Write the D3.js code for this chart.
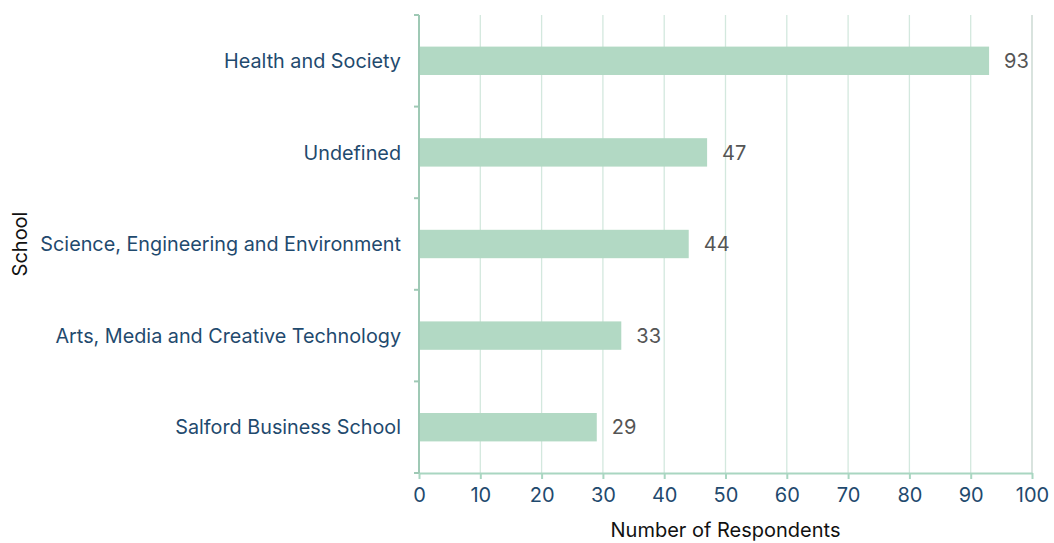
<!DOCTYPE html>
<html>
<head>
<meta charset="utf-8">
<script src="https://cdn.jsdelivr.net/npm/d3@7"></script>
<style>
  html, body { margin: 0; padding: 0; background: #fff; }
  svg { display: block; font-family: Inter, "Open Sans", sans-serif; }
</style>
</head>
<body>
<svg id="chart" width="1054" height="543"></svg>
<script>
// Respondents per school
const schools = [
  "Health and Society",
  "Undefined",
  "Science, Engineering and Environment",
  "Arts, Media and Creative Technology",
  "Salford Business School"
];
const respondents = [93, 47, 44, 33, 29];
const xTicks = [0, 10, 20, 30, 40, 50, 60, 70, 80, 90, 100];

const svg = d3.select("#chart");
const margin = { top: 15, right: 22, bottom: 70, left: 419 };
const width = 1054 - margin.left - margin.right;
const height = 543 - margin.top - margin.bottom;

const g = svg.append("g").attr("transform", `translate(${margin.left},${margin.top})`);

const x = d3.scaleLinear().domain([0, 100]).range([0, width]);
const y = d3.scaleBand().domain(schools).range([0, height]).padding(0);
const barH = y.bandwidth() * 0.31;

// vertical grid lines
g.append("g")
  .selectAll("line")
  .data(xTicks.slice(1))
  .join("line")
  .attr("x1", d => x(d)).attr("x2", d => x(d))
  .attr("y1", 0).attr("y2", height)
  .attr("stroke", d => d === 100 ? "#c4d4cc" : "#d3e8de")
  .attr("stroke-width", 1.3);

// bars
g.append("g")
  .selectAll("rect")
  .data(schools)
  .join("rect")
  .attr("x", 0)
  .attr("y", d => y(d) + y.bandwidth() / 2 - barH / 2)
  .attr("width", (d, i) => x(respondents[i]))
  .attr("height", barH)
  .attr("fill", "#b2d9c4");

// value labels
g.append("g")
  .selectAll("text")
  .data(schools)
  .join("text")
  .attr("x", (d, i) => x(respondents[i]) + 15)
  .attr("y", d => y(d) + y.bandwidth() / 2)
  .attr("dy", "0.36em")
  .attr("font-size", 20)
  .attr("fill", "#555")
  .text((d, i) => respondents[i]);

// x axis
const xAxis = g.append("g")
  .attr("transform", `translate(0,${height})`)
  .call(d3.axisBottom(x).tickValues(xTicks).tickSize(6).tickPadding(9).tickSizeOuter(0));
xAxis.select(".domain").attr("stroke", "#a9d6c1").attr("stroke-width", 2);
xAxis.selectAll(".tick line").attr("stroke", "#a9d6c1").attr("stroke-width", 2);
xAxis.selectAll(".tick text").attr("font-size", 20).attr("fill", "#1f4a6e").attr("font-family", "Inter, sans-serif");

// y axis: ticks at band boundaries
const yEdges = schools.map(d => y(d)).concat([height]);
const yAxis = g.append("g");
yAxis.append("line")
  .attr("x1", 0).attr("x2", 0).attr("y1", 0).attr("y2", height)
  .attr("stroke", "#9fc9b5").attr("stroke-width", 2);
yAxis.selectAll("line.edge")
  .data(yEdges)
  .join("line")
  .attr("class", "edge")
  .attr("x1", -5).attr("x2", 0)
  .attr("y1", d => d).attr("y2", d => d)
  .attr("stroke", "#9fc9b5").attr("stroke-width", 2);
yAxis.selectAll("text")
  .data(schools)
  .join("text")
  .attr("x", -18)
  .attr("y", d => y(d) + y.bandwidth() / 2)
  .attr("dy", "0.36em")
  .attr("text-anchor", "end")
  .attr("font-size", 19.8)
  .attr("fill", "#1f4a6e")
  .text(d => d);

// axis titles
svg.append("text")
  .attr("x", margin.left + width / 2)
  .attr("y", 537)
  .attr("text-anchor", "middle")
  .attr("font-size", 20)
  .attr("fill", "#111")
  .text("Number of Respondents");

svg.append("text")
  .attr("transform", `translate(27,${margin.top + height / 2}) rotate(-90)`)
  .attr("text-anchor", "middle")
  .attr("font-size", 20)
  .attr("fill", "#111")
  .text("School");
</script>
</body>
</html>
